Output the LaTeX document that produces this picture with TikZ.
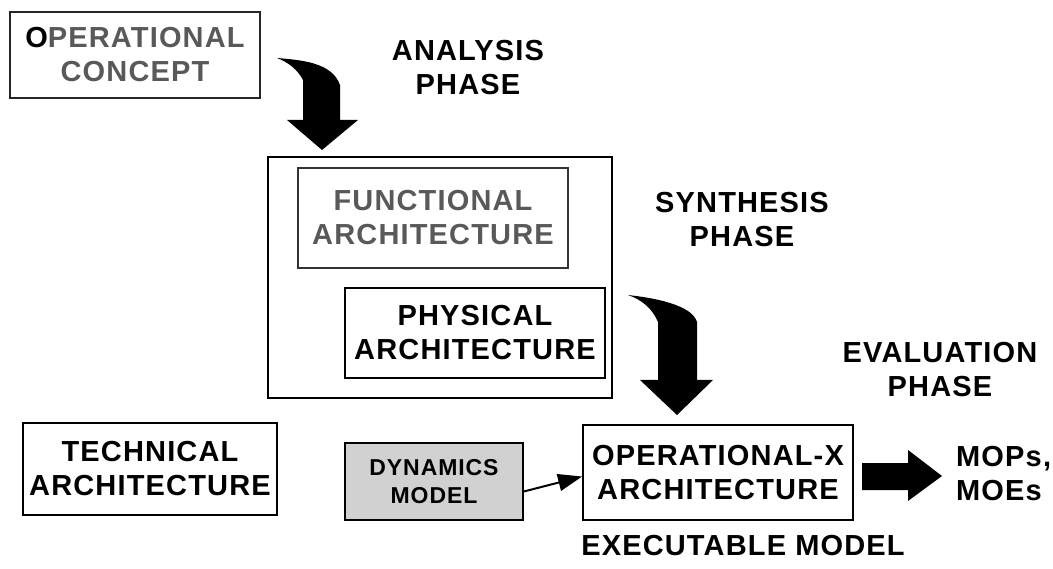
\documentclass[tikz,border=0pt]{standalone}
\usepackage{fontspec}
\setmainfont{Liberation Sans}[LetterSpace=4]
\usetikzlibrary{arrows.meta}
\tikzset{
  lbl/.style={font=\fontsize{29}{34}\selectfont\bfseries, align=center, inner sep=0pt},
  box/.style={draw, line width=1.8pt, lbl, minimum width=#1, inner sep=0pt},
  fatarrow/.style={fill=black, draw=none},
  thinarrow/.style={line width=2pt, -{Triangle[length=24pt,width=17pt]}}
}
\begin{document}
\begin{tikzpicture}[x=1pt, y=-1pt]
\useasboundingbox (0,0) rectangle (1053,569);

% boxes
\node[box=250pt, minimum height=86pt, draw=black!85] (opcon) at (135,55)
  {\textcolor{black}{O}\textcolor{black!65}{PERATIONAL}\\\textcolor{black!65}{CONCEPT}};
\node[draw, line width=1.8pt, minimum width=344pt, minimum height=241pt] (sys) at (440,277.5) {};
\node[box=270pt, minimum height=100pt, draw=black!80, text=black!65] (func) at (433,218)
  {FUNCTIONAL\\ARCHITECTURE};
\node[box=260pt, minimum height=90pt] (phys) at (475,333) {PHYSICAL\\ARCHITECTURE};
\node[box=254pt, minimum height=92pt] (tech) at (150,469) {TECHNICAL\\ARCHITECTURE};
\node[box=178pt, minimum height=77pt, fill=black!18,
      font=\fontsize{23}{28}\selectfont\bfseries] (dyn) at (434,481.5) {DYNAMICS\\MODEL};
\node[box=270pt, minimum height=95pt] (opx) at (718,472.5) {OPERATIONAL-X\\ARCHITECTURE};

% phase labels
\node[lbl] (analysis) at (468,68) {ANALYSIS\\PHASE};
\node[lbl] (synthesis) at (742,220) {SYNTHESIS\\PHASE};
\node[lbl] (evaluation) at (940,370) {EVALUATION\\PHASE};
\node[lbl, align=left, anchor=west] (mops) at (956,474) {MOPs,\\MOEs};
\node[lbl] (exec) at (743,546) {EXECUTABLE MODEL};

% curved block arrow: concept -> analysis
\fill[fatarrow] (277,58) .. controls (300,60) and (332,62) .. (340,85)
  -- (340,120) -- (358,120) -- (322,150) -- (287,120) -- (303,120) -- (303,80)
  .. controls (298,70) and (288,62) .. (277,58) -- cycle;

% curved block arrow: synthesis -> executable model
\fill[fatarrow] (628,295) .. controls (655,298) and (692,305) .. (697,322)
  -- (697,380) -- (713,380) -- (677,415) -- (640,380) -- (658,380) -- (658,322)
  .. controls (652,308) and (642,300) .. (628,295) -- cycle;

% dynamics model feeds the executable model
\draw[thinarrow] ([yshift=-10pt]dyn.east) -- ([yshift=-4pt]opx.west);

% straight block arrow to measures
\fill[fatarrow] (862,463) -- (908,463) -- (908,450) -- (942,476)
  -- (908,501) -- (908,490) -- (862,490) -- cycle;
\end{tikzpicture}
\end{document}
